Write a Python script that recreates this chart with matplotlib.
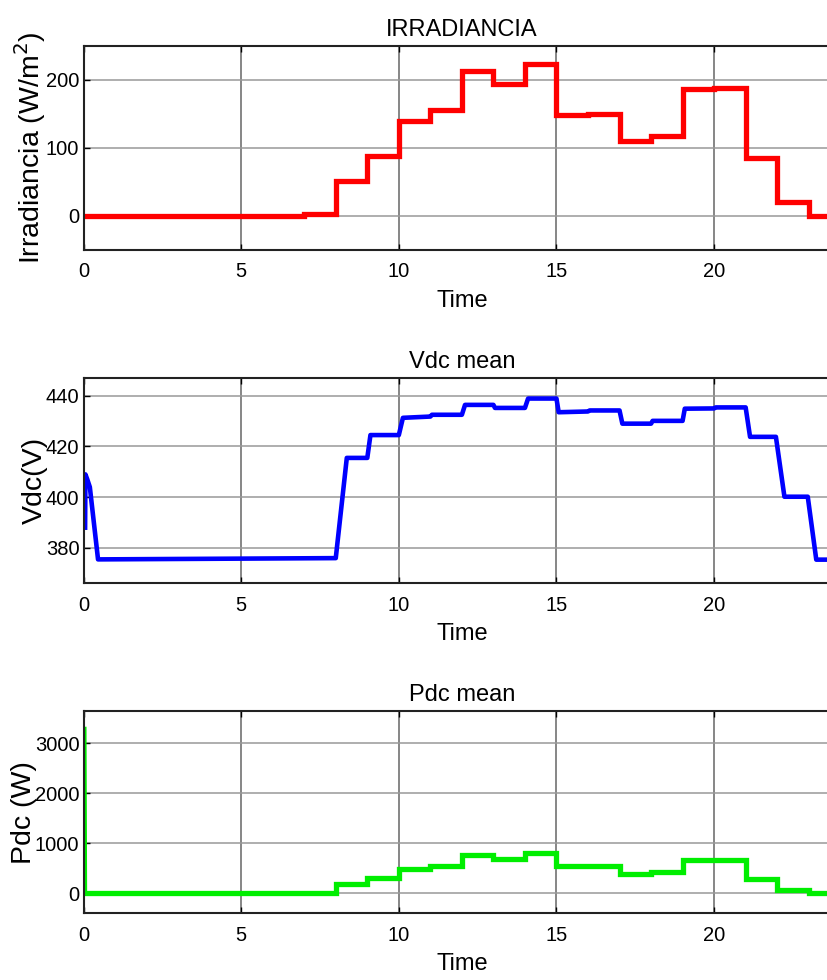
import matplotlib
matplotlib.use('Agg')
import matplotlib.pyplot as plt

plt.rcParams['font.family'] = ['Liberation Sans', 'DejaVu Sans']

# hour edges of the hourly steps
hour_edges = [0, 7, 8, 9, 10, 11, 12, 13, 14, 15, 16, 17, 18, 19, 20, 21, 22, 23, 24]

# irradiance level for each hour interval (W/m^2)
irradiance = [0, 3, 51, 88, 140, 156, 213, 194, 223, 149, 150, 110, 118, 187, 187.5, 85, 20, 0]

# mean DC voltage, read point by point (time in h, volts)
vdc_time = [0.05, 0.06, 0.12, 0.2, 0.46, 8.0, 8.35, 9.0, 9.1, 10.0, 10.13, 11.0, 11.05,
            12.0, 12.1, 13.0, 13.05, 14.0, 14.1, 15.0, 15.07, 16.0, 16.05, 17.0, 17.09,
            18.0, 18.05, 19.0, 19.07, 20.0, 20.05, 21.0, 21.14, 21.96, 22.23, 22.97,
            23.24, 24]
vdc_value = [388, 409, 407, 404, 375.5, 376, 415.5, 415.5, 424.5, 424.5, 431.3, 431.8, 432.5,
             432.5, 436.4, 436.4, 435.2, 435.2, 438.9, 438.9, 433.5, 433.8, 434.2, 434.2, 429.0,
             429.0, 430.1, 430.1, 434.9, 435.0, 435.4, 435.4, 423.8, 423.8, 400.2, 400.2,
             375.4, 375.4]

# mean DC power for each hour interval (W)
pdc = [0, 10, 180, 300, 493, 547, 760, 680, 807, 540, 547, 380, 420, 660, 667, 287, 73, 0]
# start-up transient of the power
pdc_start_time = [0.04, 0.06]
pdc_start_value = [3300, 0]

xticks = [0, 5, 10, 15, 20]

fig = plt.figure(figsize=(8.27, 9.8), dpi=100)

left = 0.101
width = 0.915  # axes run past the right edge of the picture
ax1 = fig.add_axes([left, 0.7449, width, 0.2082])
ax2 = fig.add_axes([left, 0.4046, width, 0.2097])
ax3 = fig.add_axes([left, 0.0681, width, 0.2064])


def style_axes(ax, title, ylabel, ylim, yticks, label_x):
    ax.set_xlim(0, 24)
    ax.set_ylim(*ylim)
    ax.set_xticks(xticks)
    ax.set_yticks(yticks)
    ax.set_title(title, fontsize=17, pad=7)
    ax.set_xlabel('Time', fontsize=17, labelpad=6)
    ax.set_ylabel(ylabel, fontsize=20.5)
    ax.yaxis.set_label_coords(label_x, 0.5)
    ax.tick_params(direction='in', length=4, width=1, top=True, right=True, labelsize=14.5)
    ax.tick_params(axis='x', pad=9)
    ax.tick_params(axis='y', pad=3)
    ax.xaxis.grid(True, color='#666666', linewidth=1.1)
    ax.yaxis.grid(True, color='#999999', linewidth=1.1)
    ax.set_axisbelow(True)
    for sp in ax.spines.values():
        sp.set_linewidth(1.5)
        sp.set_color('#222222')


ax1.stairs(irradiance, hour_edges, color='red', linewidth=3.8)
style_axes(ax1, 'IRRADIANCIA', 'Irradiancia (W/m$^2$)', (-50, 250), [0, 100, 200], -0.047)

ax2.plot(vdc_time, vdc_value, color='blue', linewidth=3.3)
style_axes(ax2, 'Vdc mean', 'Vdc(V)', (366, 447), [380, 400, 420, 440], -0.047)

ax3.stairs(pdc, hour_edges, color='#00ee00', linewidth=3.8)
ax3.plot(pdc_start_time, pdc_start_value, color='#00ee00', linewidth=2.5)
style_axes(ax3, 'Pdc mean', 'Pdc (W)', (-400, 3650), [0, 1000, 2000, 3000], -0.062)

fig.savefig('out.png', dpi=100)
